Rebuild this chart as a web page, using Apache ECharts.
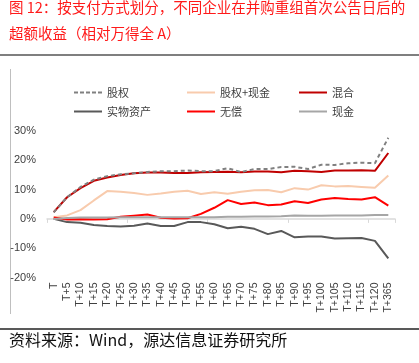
<!DOCTYPE html>
<html><head><meta charset="utf-8">
<script src="https://cdn.jsdelivr.net/npm/echarts@6/dist/echarts.min.js"></script>
<style>html,body{margin:0;padding:0;background:#fff}#c{width:419px;height:363px}</style>
</head><body><div id="c"></div>
<script>
const categories = ['T','T+5','T+10','T+15','T+20','T+25','T+30','T+35','T+40','T+45','T+50','T+55','T+60','T+65','T+70','T+75','T+80','T+85','T+90','T+95','T+100','T+105','T+110','T+115','T+120','T+365'];
const equity = [2.2, 7.4, 10.9, 13.4, 14.6, 15.2, 15.6, 16.0, 16.3, 16.3, 16.5, 16.3, 16.3, 17.3, 16.0, 17.0, 17.0, 17.7, 17.8, 17.0, 18.5, 18.4, 19.0, 19.2, 19.0, 27.7];
const equityCash = [0.6, 1.2, 3.0, 6.3, 9.5, 9.3, 8.8, 8.2, 8.7, 9.3, 9.6, 8.5, 9.1, 8.6, 9.3, 9.8, 9.9, 9.1, 10.5, 10.0, 11.5, 11.1, 11.2, 10.9, 10.6, 14.8];
const mixed = [2.3, 7.4, 10.5, 13.0, 14.1, 15.0, 15.6, 15.8, 15.8, 15.7, 15.7, 15.9, 16.0, 16.1, 15.9, 16.2, 16.2, 15.9, 16.4, 16.3, 16.0, 16.5, 16.5, 16.6, 16.4, 22.5];
const physical = [0, -1.1, -1.3, -2.1, -2.4, -2.6, -2.3, -1.6, -2.4, -2.4, -1.1, -1.1, -1.8, -3.2, -2.7, -3.4, -5.2, -4.1, -6.3, -6.0, -6.0, -6.7, -6.6, -6.5, -7.5, -13.5];
const free = [0.5, -0.2, -0.1, -0.2, -0.1, 0.7, 1.1, 1.5, 0.4, 0.1, 0.2, 1.7, 3.8, 6.4, 5.1, 5.6, 4.7, 4.9, 6.0, 5.4, 6.6, 7.1, 6.8, 6.6, 7.4, 4.5];
const cash = [0.0, 0.3, 0.5, 0.5, 0.5, 0.6, 0.6, 0.6, 0.6, 0.6, 0.6, 0.6, 0.6, 0.7, 0.7, 0.8, 0.8, 0.9, 1.2, 1.1, 1.1, 1.2, 1.2, 1.2, 1.3, 1.3];
const yTicks = [-20, -10, 0, 10, 20, 30];

const names = ['股权','股权+现金','混合','实物资产','无偿','现金'];
const colors = ['#808080','#f8cbad','#c00000','#595959','#ff0000','#a6a6a6'];
const datas = [equity, equityCash, mixed, physical, free, cash];
const cjk = '"Noto Sans CJK SC", sans-serif';
const legendPos = [[74,82],[187,82],[299,82],[74,101],[187,101],[299,101]];
const dashIcon = 'path://M0,0h4v2h-4z M6,0h4v2h-4z M12,0h4v2h-4z M18,0h4v2h-4z M24,0h4v2h-4z';

const chart = echarts.init(document.getElementById('c'), null, {renderer:'canvas'});
chart.setOption({
  animation: false,
  title: [
    {text: '图 12：按支付方式划分，不同企业在并购重组首次公告日后的\n超额收益（相对万得全 A）', left: 9, top: -6, padding: 0,
     textStyle: {color:'#ff1a1a', fontSize: 14.5, fontWeight: 'normal', fontFamily: cjk, lineHeight: 26}},
    {text: '资料来源：Wind，源达信息证券研究所', left: 9, top: 332, padding: 0,
     textStyle: {color:'#111', fontSize: 16, fontWeight: 'normal', fontFamily: cjk}}
  ],
  graphic: [
    {type:'line', shape:{x1:0,y1:55,x2:419,y2:55}, style:{stroke:'#7f7f7f', lineWidth:2}},
    {type:'line', shape:{x1:0,y1:329,x2:419,y2:329}, style:{stroke:'#595959', lineWidth:2}},
    {type:'line', shape:{x1:10.5,y1:69,x2:10.5,y2:314}, style:{stroke:'#bfbfbf', lineWidth:1}}
  ],
  legend: names.map((n,i)=>({
    data:[{name: n, icon: i===0 ? dashIcon : 'rect'}], left: legendPos[i][0], top: legendPos[i][1],
    itemWidth: 28, itemHeight: 2, itemGap: 4, padding: [5,5,5,0],
    textStyle:{fontSize: 11, color:'#404040', fontFamily: cjk}
  })),
  grid: {left: 47, top: 131, width: 348, height: 146.5, containLabel: false},
  xAxis: [
    {type:'category', data: categories, boundaryGap: true,
     axisLine: {onZero: true, lineStyle:{color:'#d9d9d9', width: 1.5}},
     axisTick: {show: true, interval: 5, length: 4, lineStyle:{color:'#d9d9d9'}},
     axisLabel: {show: false}},
    {type:'category', data: categories, position: 'bottom', boundaryGap: true,
     axisLine: {show: false, onZero: false}, axisTick: {show: false},
     axisLabel: {interval: 0, rotate: 90, margin: 5, fontSize: 10.5, color:'#404040', fontFamily: '"Liberation Sans", Arial, sans-serif'}}
  ],
  yAxis: {type:'value', min: yTicks[0], max: yTicks[yTicks.length-1], interval: 10,
    axisLine:{show:false}, axisTick:{show:false}, splitLine:{show:false},
    axisLabel:{formatter: '{value}%', fontSize: 11, color:'#404040', margin: 11, fontFamily: '"Liberation Sans", Arial, sans-serif'}},
  series: names.map((n,i)=>({
    name: n, type:'line', data: datas[i], xAxisIndex: 0, symbol:'none', showSymbol:false,
    itemStyle:{color: colors[i]},
    lineStyle:{color: colors[i], width: 2, type: i===0 ? [4,3] : 'solid'},
    z: i===0 ? 5 : 3
  }))
});
</script></body></html>
